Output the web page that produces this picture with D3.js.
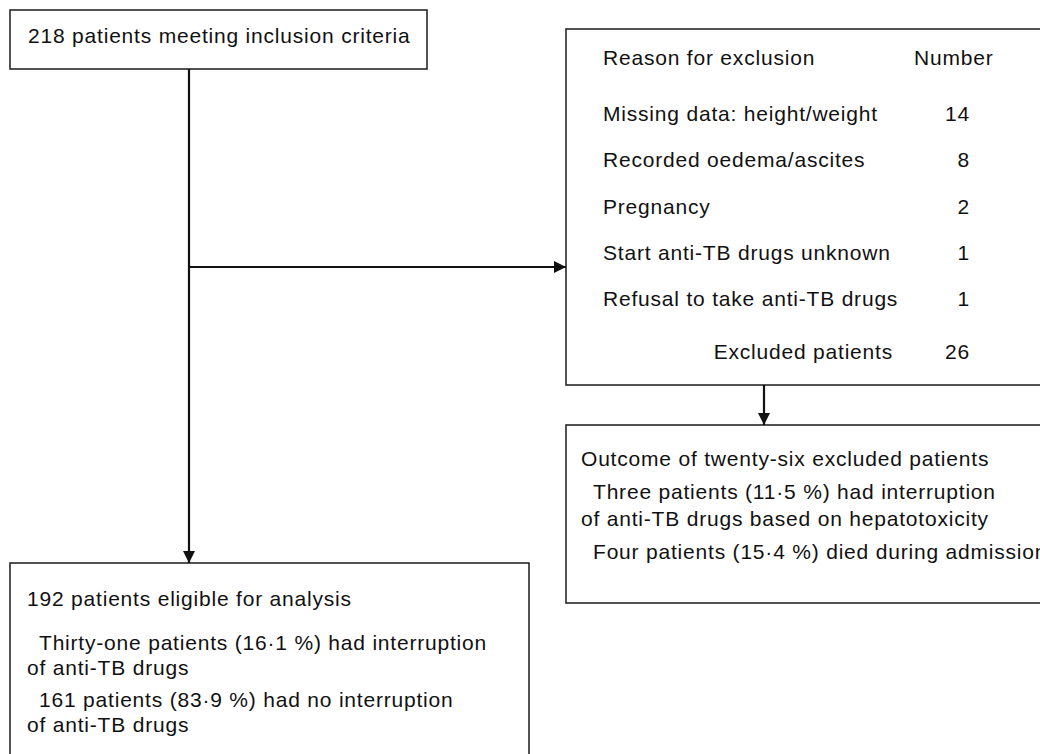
<!DOCTYPE html>
<html>
<head>
<meta charset="utf-8">
<script src="https://cdn.jsdelivr.net/npm/d3@7"></script>
<style>
  html, body { margin: 0; padding: 0; background: #fff; }
  svg { display: block; }
  text { font-family: "Liberation Sans", Arial, sans-serif; font-size: 21px; letter-spacing: 0.8px; fill: #111; }
</style>
</head>
<body>
<div id="viz"></div>
<script>
// flow chart data
const enrolledText = "218 patients meeting inclusion criteria";
const reasonHeader = ["Reason for exclusion", "Number"];
const reasons = [
    "Missing data: height/weight",
    "Recorded oedema/ascites",
    "Pregnancy",
    "Start anti-TB drugs unknown",
    "Refusal to take anti-TB drugs"
];
const reasonCounts = [14, 8, 2, 1, 1];
const excludedLabel = "Excluded patients";
const excludedTotal = 26;
const outcomeTitle = "Outcome of twenty-six excluded patients";
const outcomeLines = [
    ["Three patients (11·5 %) had interruption", "of anti-TB drugs based on hepatotoxicity"],
    ["Four patients (15·4 %) died during admission"]
];
const eligibleTitle = "192 patients eligible for analysis";
const eligibleLines = [
    ["Thirty-one patients (16·1 %) had interruption", "of anti-TB drugs"],
    ["161 patients (83·9 %) had no interruption", "of anti-TB drugs"]
];

const width = 1040, height = 754;

const svg = d3.select("#viz").append("svg")
    .attr("width", width)
    .attr("height", height);

// arrow head
svg.append("defs").append("marker")
    .attr("id", "arrow")
    .attr("markerUnits", "userSpaceOnUse")
    .attr("viewBox", "0 0 12 12")
    .attr("refX", 12)
    .attr("refY", 6)
    .attr("markerWidth", 12)
    .attr("markerHeight", 12)
    .attr("orient", "auto")
    .append("path")
    .attr("d", "M0,0 L12,6 L0,12 Z")
    .attr("fill", "#111");

// boxes
const boxes = [
    { x: 10, y: 10, w: 417, h: 59 },
    { x: 566, y: 29, w: 480, h: 356 },
    { x: 566, y: 425, w: 480, h: 178 },
    { x: 10, y: 563, w: 519, h: 200 }
];
svg.selectAll("rect.box")
    .data(boxes)
    .enter()
    .append("rect")
    .attr("class", "box")
    .attr("x", d => d.x)
    .attr("y", d => d.y)
    .attr("width", d => d.w)
    .attr("height", d => d.h)
    .attr("fill", "none")
    .attr("stroke", "#1a1a1a")
    .attr("stroke-width", 1.5);

// connectors
const arrows = [
    [[189, 69], [189, 563]],
    [[189, 267], [566, 267]],
    [[764, 385], [764, 425]]
];
svg.selectAll("path.link")
    .data(arrows)
    .enter()
    .append("path")
    .attr("class", "link")
    .attr("d", d => d3.line()(d))
    .attr("stroke", "#111")
    .attr("stroke-width", 2.2)
    .attr("fill", "none")
    .attr("marker-end", "url(#arrow)");

// top box
svg.append("text").attr("x", 28).attr("y", 43).text(enrolledText);

// exclusion table
svg.append("text").attr("x", 603).attr("y", 65).text(reasonHeader[0]);
svg.append("text").attr("x", 914).attr("y", 65).text(reasonHeader[1]);

const rowY = d3.scalePoint()
    .domain(reasons)
    .range([121, 306]);

const rows = svg.selectAll("g.row")
    .data(reasons.map((r, i) => ({ reason: r, count: reasonCounts[i] })))
    .enter()
    .append("g")
    .attr("class", "row")
    .attr("transform", d => `translate(0, ${rowY(d.reason)})`);
rows.append("text").attr("x", 603).text(d => d.reason);
rows.append("text").attr("x", 970).attr("text-anchor", "end").text(d => d.count);

svg.append("text").attr("x", 893).attr("y", 359).attr("text-anchor", "end").text(excludedLabel);
svg.append("text").attr("x", 970).attr("y", 359).attr("text-anchor", "end").text(excludedTotal);

// text block helper: title + indented paragraphs with wrapped lines
function block(x, y0, title, paras, firstGap, lineGap, paraGap) {
    svg.append("text").attr("x", x).attr("y", y0).text(title);
    let y = y0;
    paras.forEach((p, i) => {
        y += i === 0 ? firstGap : paraGap;
        p.forEach((line, j) => {
            if (j > 0) y += lineGap;
            svg.append("text")
                .attr("x", j === 0 ? x + 12 : x)
                .attr("y", y)
                .text(line);
        });
    });
}

block(581, 466, outcomeTitle, outcomeLines, 33, 27, 33);
block(27, 606, eligibleTitle, eligibleLines, 44, 25, 32);
</script>
</body>
</html>
